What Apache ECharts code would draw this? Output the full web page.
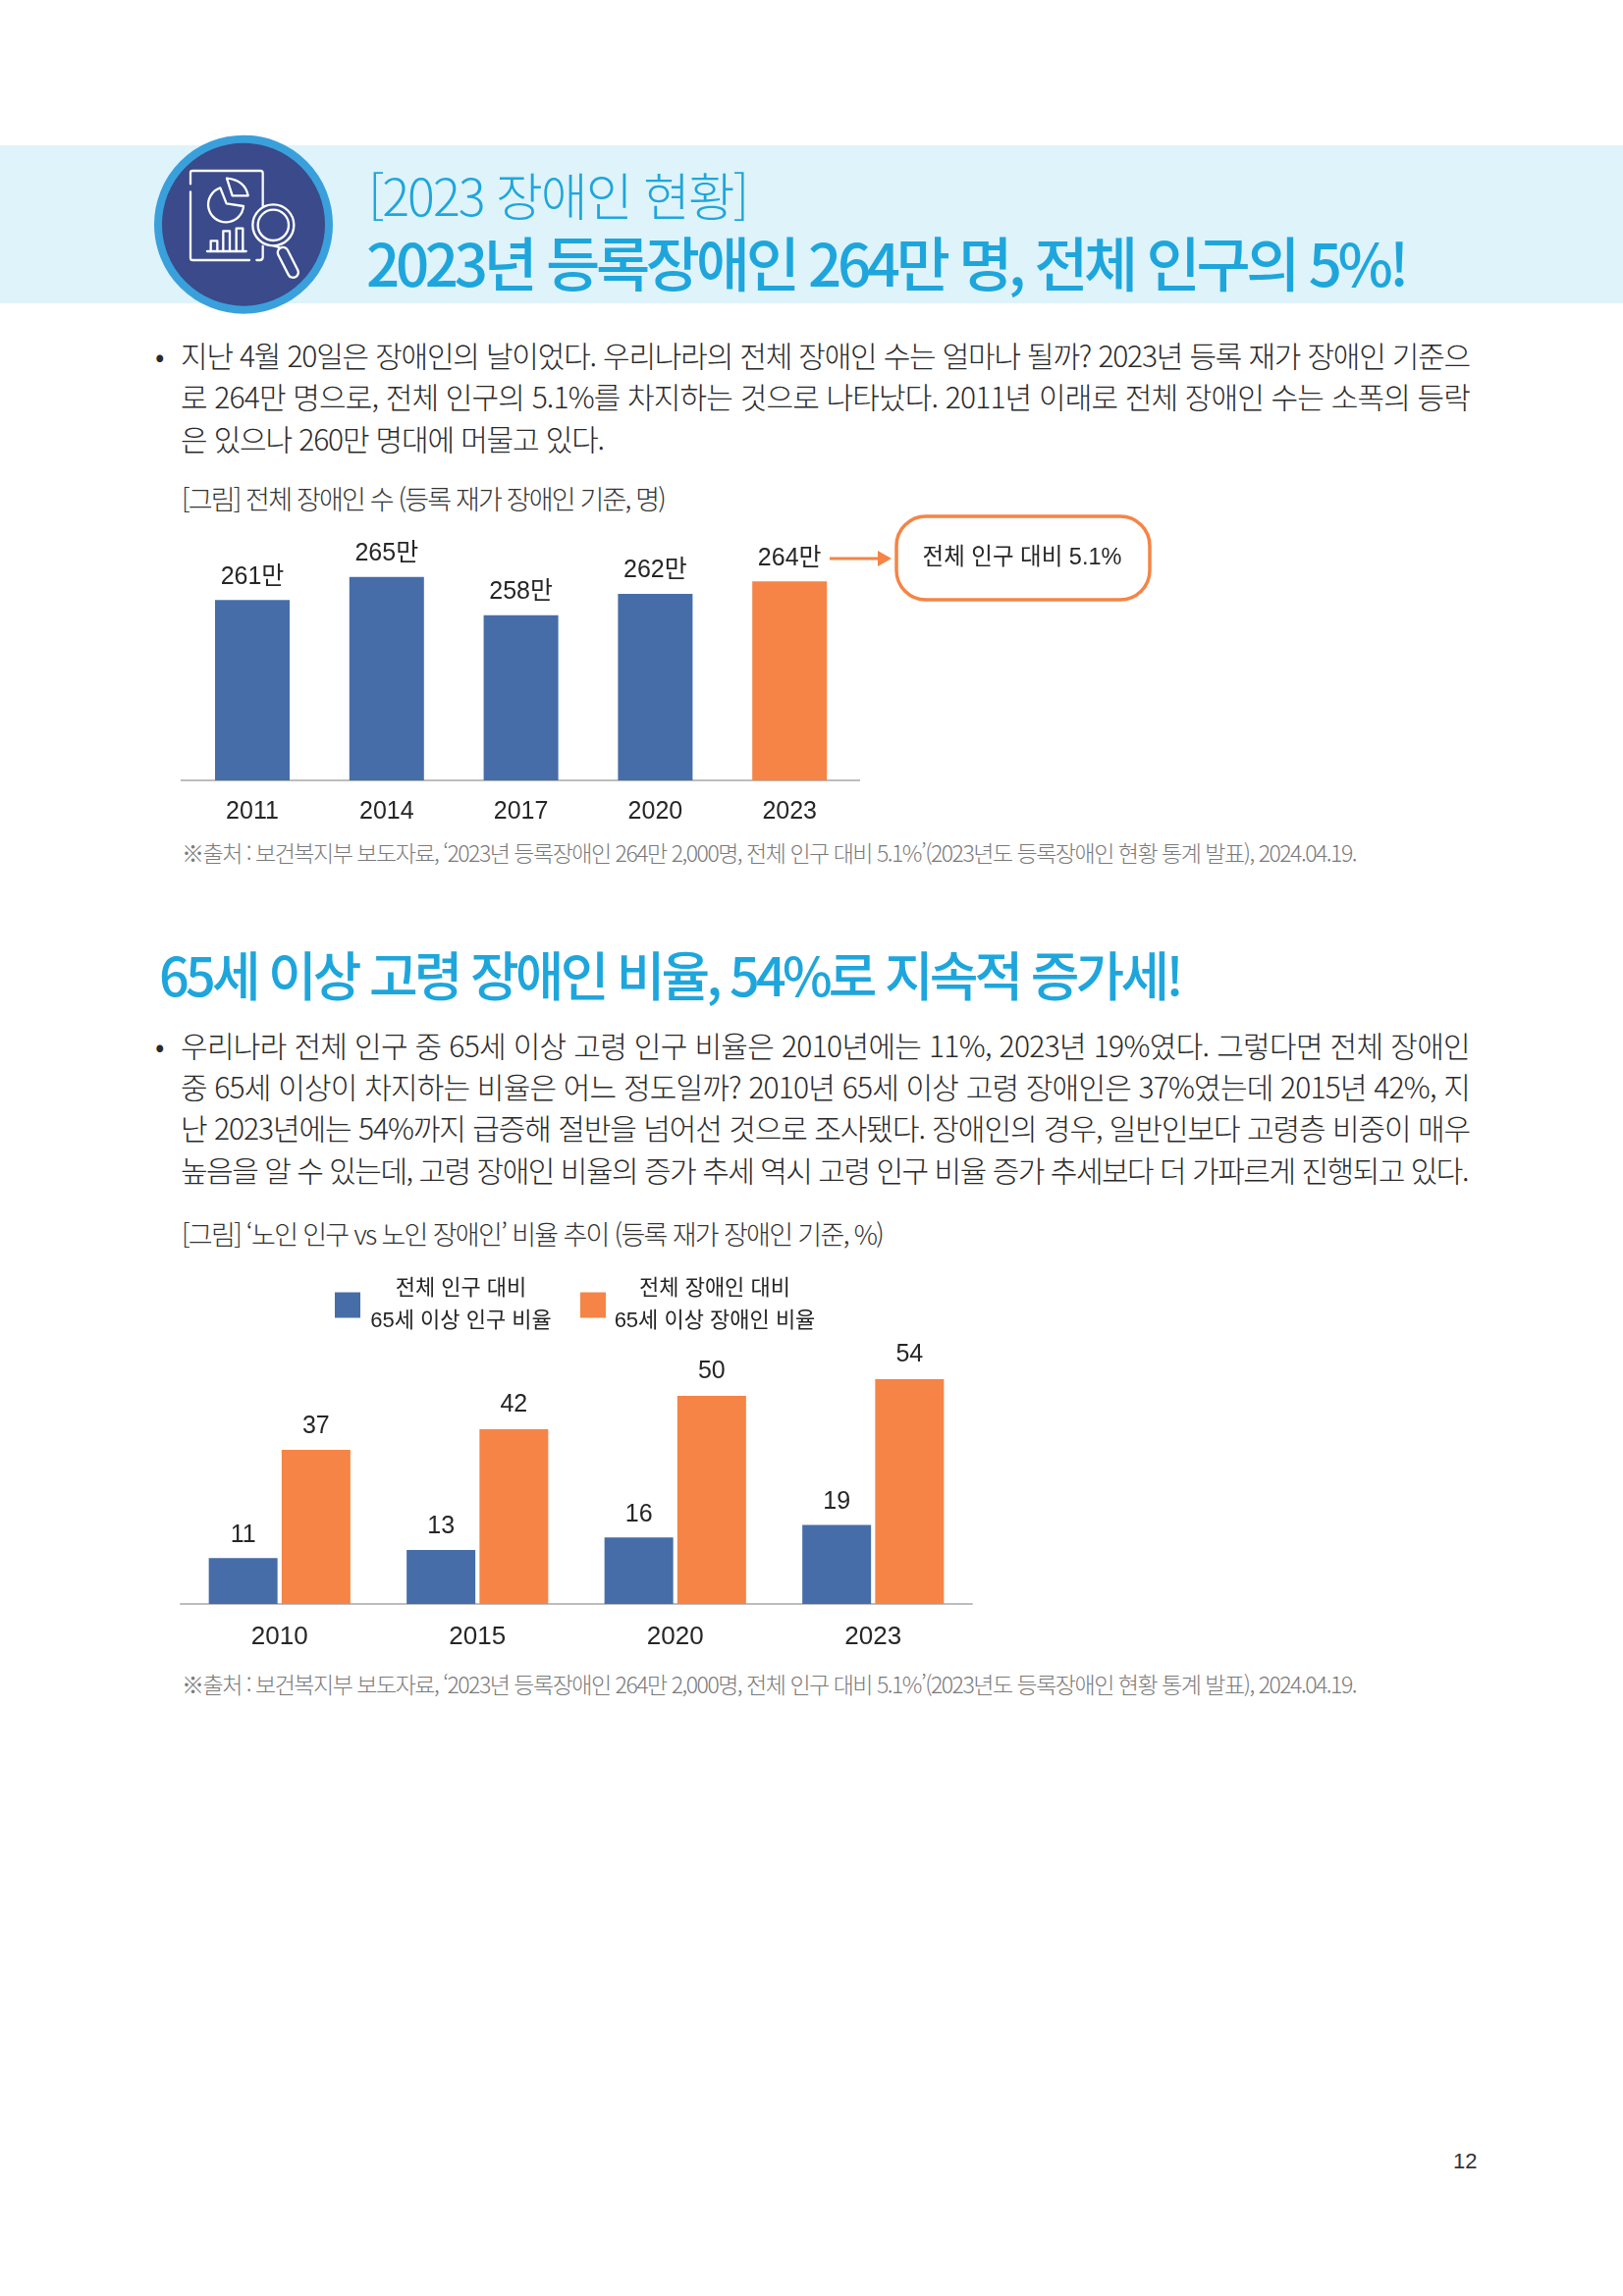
<!DOCTYPE html>
<html lang="ko"><head><meta charset="utf-8">
<script src="https://cdn.jsdelivr.net/npm/echarts@6/dist/echarts.min.js"></script>
<style>
html,body{margin:0;padding:0;background:#fff;}
#page{position:relative;width:1653px;height:2339px;overflow:hidden;font-family:"Noto Sans CJK KR","Liberation Sans",sans-serif;}
#banner{position:absolute;left:0;top:148px;width:1653px;height:161px;background:#DFF3FA;}
#icon{position:absolute;left:130px;top:130px;width:240px;height:200px;}
#chart{position:absolute;left:0;top:0;width:1653px;height:2339px;}
.t{position:absolute;white-space:nowrap;transform:translateY(-50%);line-height:1;display:inline-block;}
.h1{color:#1EA6DC;font-size:52px;font-weight:300;}
.h2{color:#1EA6DC;font-size:60px;font-weight:500;}
.h3{color:#1EA6DC;font-size:54px;font-weight:500;}
.b{color:#2a2a2a;font-size:30px;font-weight:300;}
.c{color:#333;font-size:27px;font-weight:300;}
.s{color:#7a7a7a;font-size:23px;font-weight:300;}
.n{color:#333;font-size:22px;font-family:"Liberation Sans",sans-serif;}
</style></head>
<body><div id="page">
<div id="banner"></div>
<svg id="icon" viewBox="0 0 720 600" fill="none" stroke="#fff" stroke-width="7" stroke-linecap="round" stroke-linejoin="round">
  <circle cx="354" cy="296" r="261" fill="#3A4A8A" stroke="#3AA0DC" stroke-width="24"/>
  <path d="M192 172V138Q192 132 198 132H406Q413 132 413 139V240M192 196V398Q192 405 199 405H372M413 362V396Q413 405 404 405H394" opacity=".95"/>
  <path d="M283 184A54 54 0 1 0 354 240L302 232Z"/>
  <path d="M303 155Q358 160 368 208L320 208Z"/>
  <path d="M243 378H362"/>
  <path d="M254 378V346H274V378M292 378V316H312V378M332 378V308H352V378"/>
  <circle cx="445" cy="298" r="63"/><circle cx="445" cy="298" r="47"/>
  <path d="M448 361L462 366"/>
  <rect x="474" y="362" width="32" height="100" rx="16" transform="rotate(-27 490 412)"/>
</svg>

<div class="t h1" data-w="386" style="left:375px;top:198px">[2023 장애인 현황]</div>
<div class="t h2" data-w="1058" style="left:373px;top:266px">2023년 등록장애인 264만 명, 전체 인구의 5%!</div>

<div class="t b" style="left:158px;top:361px">•</div>
<div class="t b" data-w="1313" style="left:184px;top:361px">지난 4월 20일은 장애인의 날이었다. 우리나라의 전체 장애인 수는 얼마나 될까? 2023년 등록 재가 장애인 기준으</div>
<div class="t b" data-w="1313" style="left:184px;top:403px">로 264만 명으로, 전체 인구의 5.1%를 차지하는 것으로 나타났다. 2011년 이래로 전체 장애인 수는 소폭의 등락</div>
<div class="t b" data-w="431" style="left:184px;top:446px">은 있으나 260만 명대에 머물고 있다.</div>
<div class="t c" data-w="492" style="left:185px;top:507px">[그림] 전체 장애인 수 (등록 재가 장애인 기준, 명)</div>
<div class="t s" data-w="1196" style="left:185px;top:868px">※출처 : 보건복지부 보도자료, ‘2023년 등록장애인 264만 2,000명, 전체 인구 대비 5.1%’(2023년도 등록장애인 현황 통계 발표), 2024.04.19.</div>

<div class="t h3" data-w="1040" style="left:162px;top:992px">65세 이상 고령 장애인 비율, 54%로 지속적 증가세!</div>
<div class="t b" style="left:158px;top:1064px">•</div>
<div class="t b" data-w="1313" style="left:184px;top:1064px">우리나라 전체 인구 중 65세 이상 고령 인구 비율은 2010년에는 11%, 2023년 19%였다. 그렇다면 전체 장애인</div>
<div class="t b" data-w="1313" style="left:184px;top:1106px">중 65세 이상이 차지하는 비율은 어느 정도일까? 2010년 65세 이상 고령 장애인은 37%였는데 2015년 42%, 지</div>
<div class="t b" data-w="1313" style="left:184px;top:1148px">난 2023년에는 54%까지 급증해 절반을 넘어선 것으로 조사됐다. 장애인의 경우, 일반인보다 고령층 비중이 매우</div>
<div class="t b" data-w="1311" style="left:184px;top:1191px">높음을 알 수 있는데, 고령 장애인 비율의 증가 추세 역시 고령 인구 비율 증가 추세보다 더 가파르게 진행되고 있다.</div>
<div class="t c" data-w="714" style="left:185px;top:1256px">[그림] ‘노인 인구 vs 노인 장애인’ 비율 추이 (등록 재가 장애인 기준, %)</div>
<div class="t s" data-w="1196" style="left:185px;top:1715px">※출처 : 보건복지부 보도자료, ‘2023년 등록장애인 264만 2,000명, 전체 인구 대비 5.1%’(2023년도 등록장애인 현황 통계 발표), 2024.04.19.</div>
<div class="t n" style="left:1480px;top:2202px">12</div>
<div id="chart"></div>
</div>
<script>
// Chart 1: registered disabled persons (unit: 만 명)
var years1 = ['2011', '2014', '2017', '2020', '2023'];
var counts1 = [260.8, 265, 258, 261.9, 264.2];
var callout1 = '전체 인구 대비 5.1%';

// Chart 2: share aged 65+ (%)
var years2 = ['2010', '2015', '2020', '2023'];
var seriesName2a = '전체 인구 대비\n65세 이상 인구 비율';
var seriesName2b = '전체 장애인 대비\n65세 이상 장애인 비율';
var popShare = [11, 13, 16, 19];
var disabledShare = [37, 42, 50, 54];

var BLUE = '#466DA8', ORANGE = '#F58446', AXIS = '#BDBDBD', INK = '#262626';
var FONT = '"Liberation Sans","Noto Sans CJK KR",sans-serif';

// fit each text line to its measured width in the page
document.querySelectorAll('.t[data-w]').forEach(function (el) {
  var w = el.getBoundingClientRect().width, n = el.textContent.length;
  el.style.letterSpacing = ((+el.dataset.w - w) / n) + 'px';
});

function wrap(s, key) { return s.split('\n').map(function (x) { return '{' + key + '|' + x + '}'; }).join('\n'); }

var chart = echarts.init(document.getElementById('chart'), null, { renderer: 'canvas', width: 1653, height: 2339 });
chart.setOption({
  animation: false,
  backgroundColor: 'transparent',
  textStyle: { fontFamily: FONT },
  grid: [
    { left: 188.6, width: 684, top: 560, height: 235, containLabel: false },
    { left: 184, width: 806, top: 1379.6, height: 254.4, containLabel: false }
  ],
  xAxis: [
    { gridIndex: 0, type: 'category', data: years1, axisLine: { show: false }, axisTick: { show: false },
      axisLabel: { fontSize: 25, color: INK, margin: 20, fontFamily: FONT } },
    { gridIndex: 1, type: 'category', data: years2, axisLine: { lineStyle: { color: AXIS, width: 2 } }, axisTick: { show: false },
      axisLabel: { fontSize: 26, color: INK, margin: 21, fontFamily: FONT } }
  ],
  yAxis: [
    { gridIndex: 0, type: 'value', min: 227.8, max: 270, show: false },
    { gridIndex: 1, type: 'value', min: 0, max: 60, show: false }
  ],
  legend: {
    left: 336, top: 1297, itemWidth: 26, itemHeight: 26, itemGap: 24, icon: 'rect',
    selectedMode: false,
    data: [{ name: seriesName2a }, { name: seriesName2b }],
    formatter: function (name) { return wrap(name, name === seriesName2a ? 'a' : 'b'); },
    textStyle: {
      rich: {
        a: { width: 195, align: 'center', fontSize: 22, lineHeight: 33, color: INK, fontFamily: FONT },
        b: { width: 212, align: 'center', fontSize: 22, lineHeight: 33, color: INK, fontFamily: FONT }
      }
    }
  },
  series: [
    { type: 'bar', xAxisIndex: 0, yAxisIndex: 0, barWidth: 76,
      data: counts1.map(function (v, i) {
        return { value: v, itemStyle: { color: i === counts1.length - 1 ? ORANGE : BLUE } };
      }),
      label: { show: true, position: 'top', distance: 11, fontSize: 25, color: INK, fontFamily: FONT,
        formatter: function (p) { return Math.round(p.value) + '만'; } } },
    { name: seriesName2a, type: 'bar', xAxisIndex: 1, yAxisIndex: 1, barWidth: 70, barGap: '6%', data: popShare,
      itemStyle: { color: BLUE },
      label: { show: true, position: 'top', distance: 11, fontSize: 25, color: INK, fontFamily: FONT } },
    { name: seriesName2b, type: 'bar', xAxisIndex: 1, yAxisIndex: 1, barWidth: 70, barGap: '6%', data: disabledShare,
      itemStyle: { color: ORANGE },
      label: { show: true, position: 'top', distance: 12, fontSize: 25, color: INK, fontFamily: FONT } }
  ],
  graphic: [
    { type: 'line', shape: { x1: 184, y1: 795, x2: 876, y2: 795 }, style: { stroke: AXIS, lineWidth: 2 } },
    { type: 'rect', shape: { x: 913, y: 526, width: 258, height: 85, r: 30 }, style: { fill: '#fff', stroke: ORANGE, lineWidth: 3.5 } },
    { type: 'text', style: { x: 1041, y: 569, text: callout1, fill: INK, fontSize: 23.5, fontFamily: FONT, align: 'center', verticalAlign: 'middle' } },
    { type: 'line', shape: { x1: 845, y1: 569, x2: 898, y2: 569 }, style: { stroke: ORANGE, lineWidth: 3 } },
    { type: 'polygon', shape: { points: [[894, 561], [908, 569], [894, 577]] }, style: { fill: ORANGE } }
  ]
});
</script>
</body></html>
